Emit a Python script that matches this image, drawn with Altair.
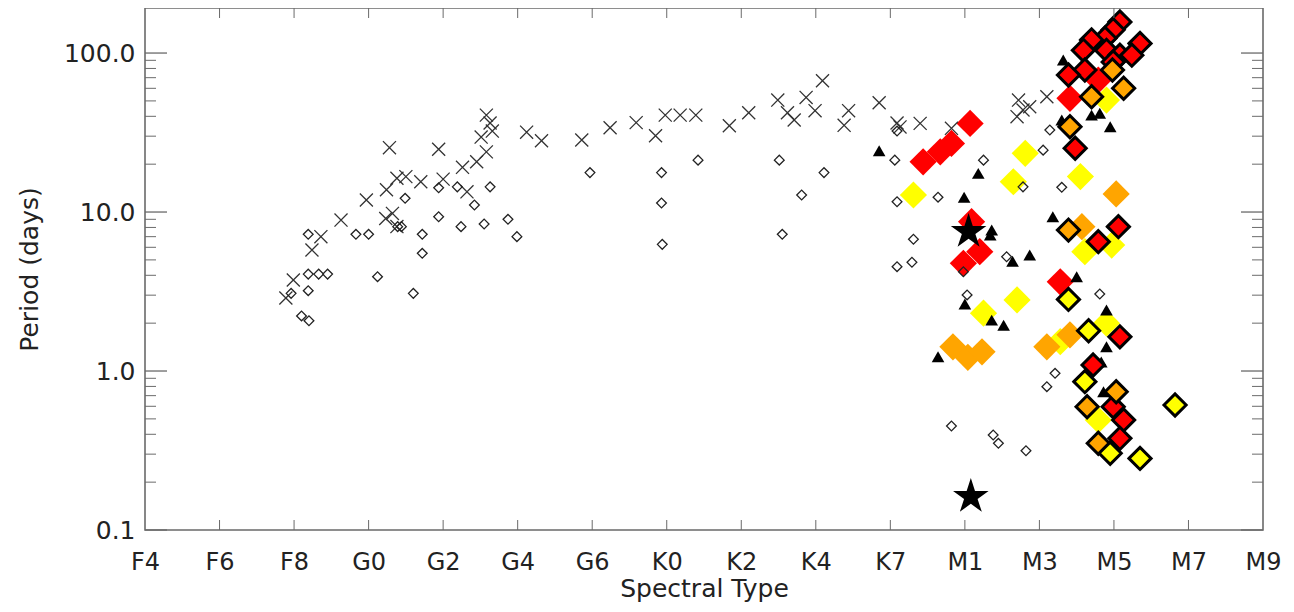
import altair as alt
import pandas as pd

# Spectral-type tick labels (positions 0..15 on the x scale)
spt_labels = ["F4", "F6", "F8", "G0", "G2", "G4", "G6", "K0",
              "K2", "K4", "K7", "M1", "M3", "M5", "M7", "M9"]

# Crosses
cross_spt = [1.89, 1.99, 2.24, 2.36, 2.63, 2.97, 3.23, 3.32, 3.38, 3.24, 3.28, 3.38, 3.50,
             3.70, 3.94, 4.00, 4.26, 4.32, 4.45, 4.58, 4.51, 4.66, 4.63, 4.58, 5.12, 5.32,
             5.86, 6.24, 6.59, 6.85, 6.98, 7.18, 7.39, 7.84, 8.10, 8.49, 8.62, 8.71, 8.87,
             8.99, 9.09, 9.44, 9.38, 9.85, 10.09, 10.13, 10.40, 10.82, 11.70, 11.72, 11.87,
             12.10, 11.78]
cross_per = [2.88, 3.74, 5.77, 7.0, 8.9, 11.9, 9.1, 9.8, 8.1, 13.8, 25.4, 16.3, 16.7,
             15.5, 24.8, 16.1, 19.1, 13.4, 20.7, 23.9, 29.6, 32.3, 36.3, 40.7, 31.8, 28.1,
             28.4, 33.9, 36.5, 30.2, 40.7, 40.7, 40.7, 34.9, 42.1, 50.6, 42.1, 37.9, 52.6,
             43.4, 67.0, 43.4, 35.1, 48.7, 36.3, 34.3, 36.1, 33.6, 39.8, 50.6, 45.9,
             53.1, 43.8]

# Small open diamonds
odia_spt = [1.96, 2.10, 2.20, 2.19, 2.19, 2.33, 2.45, 2.19, 2.83, 3.00, 3.12, 3.39, 3.44,
            3.49, 3.60, 3.72, 3.72, 3.94, 3.94, 4.19, 4.24, 4.42, 4.55, 4.63, 4.87, 4.99,
            5.97, 6.93, 6.93, 6.94, 7.42, 8.51, 8.55, 8.81, 9.11, 10.09, 10.06, 10.09,
            10.64, 10.31, 10.29, 10.09, 10.98, 11.03, 11.25, 11.56, 11.78, 12.05, 12.14,
            12.30, 12.81, 12.21, 12.10, 10.82, 11.38, 11.45, 11.82]
odia_per = [3.08, 2.22, 2.07, 3.20, 4.07, 4.07, 4.07, 7.24, 7.24, 7.24, 3.92, 8.09, 8.09,
            12.2, 3.08, 7.24, 5.50, 14.2, 9.34, 14.4, 8.09, 11.07, 8.41, 14.4, 9.0, 7.0,
            17.7, 17.7, 11.4, 6.26, 21.2, 21.2, 7.24, 12.8, 17.7, 32.3, 21.2, 11.6,
            12.4, 6.74, 4.83, 4.53, 4.21, 3.01, 21.2, 5.23, 14.4, 24.5, 32.8,
            14.3, 3.05, 0.967, 0.797, 0.451, 0.396, 0.351, 0.315]

# Filled triangles
tri_spt = [9.85, 11.18, 10.99, 11.36, 11.34, 11.64, 11.87, 11.00, 11.36, 11.52, 10.64,
           12.18, 12.32, 12.30, 12.70, 12.81, 12.95, 12.50, 12.90, 12.90, 12.86, 12.83]
tri_per = [24.3, 17.5, 12.4, 7.70, 7.17, 4.9, 5.37, 2.64, 2.09, 1.94, 1.23,
           9.34, 90.4, 37.9, 40.7, 41.8, 34.4, 3.92, 2.42, 1.42, 0.741, 1.14]

# Stars
star_spt = [11.05, 11.08]
star_per = [7.52, 0.162]

# Large diamonds without outline
big_spt = [10.44, 10.67, 10.82, 11.07, 11.09, 11.20, 10.98, 12.28, 12.79, 12.41,
           10.31, 11.81, 11.65, 11.70, 11.25, 12.55, 12.61, 12.97, 12.28, 12.90, 12.79, 12.90,
           10.84, 11.04, 11.23, 12.10, 12.41, 13.03, 12.57]
big_per = [20.7, 23.9, 27.0, 36.1, 8.69, 5.63, 4.76, 3.64, 67.6, 51.9,
           12.8, 23.4, 15.5, 2.80, 2.31, 16.7, 5.63, 6.2, 1.53, 2.0, 0.492, 50.6,
           1.42, 1.22, 1.32, 1.42, 1.69, 13.0, 8.09]
big_cls = ["red"] * 10 + ["yellow"] * 12 + ["orange"] * 7

# Large diamonds with black outline
out_spt = [13.08, 12.99, 12.88, 12.70, 12.59, 12.90, 13.08, 13.35, 13.24, 12.99, 12.61,
           12.39, 12.48, 13.06, 12.79, 13.08, 12.72, 12.99, 13.13, 13.08,
           12.98, 13.13, 12.70, 12.41, 12.39, 13.03, 12.64, 12.79,
           12.39, 12.66, 12.61, 12.95, 13.35, 13.82]
out_per = [157, 140, 124, 121, 104, 104, 97, 115, 97, 87.8, 78.2,
           72.7, 25.2, 8.09, 6.51, 1.64, 1.09, 0.596, 0.492, 0.377,
           78.2, 60, 53.1, 34.4, 7.7, 0.741, 0.596, 0.351,
           2.82, 1.79, 0.857, 0.304, 0.282, 0.611]
out_cls = ["red"] * 20 + ["orange"] * 8 + ["yellow"] * 6

y_major = [0.1, 1, 10, 100]
y_minor = [0.2, 0.3, 0.4, 0.5, 0.6, 0.7, 0.8, 0.9, 2, 3, 4, 5, 6, 7, 8, 9,
           20, 30, 40, 50, 60, 70, 80, 90]
x_ticks = list(range(1, 15))

W, H = 1118, 522
FONT = "DejaVu Sans"
TXT = "#222222"
FRAME = "#6a6a6a"

STAR_PATH = ("M0,-1L0.2233,-0.3074L0.9511,-0.309L0.3614,0.1174L0.5878,0.809L0,0.38"
             "L-0.5878,0.809L-0.3614,0.1174L-0.9511,-0.309L-0.2233,-0.3074Z")
XMARK_PATH = "M-1,-1L1,1M1,-1L-1,1"

xscale = alt.Scale(domain=[0, 15], nice=False, zero=False)
yscale = alt.Scale(type="log", domain=[0.1, 192], nice=False)

label_arr = "[" + ",".join("'%s'" % s for s in spt_labels) + "]"
xaxis = alt.Axis(orient="bottom", values=list(range(16)),
                 labelExpr=label_arr + "[datum.value]",
                 ticks=False, domain=False, grid=False,
                 labelPadding=20, labelFontSize=24, labelFont=FONT, labelColor=TXT,
                 title="Spectral Type", titleFontSize=25, titleFont=FONT,
                 titleFontWeight="normal", titleColor=TXT, titleY=46,
                 titleBaseline="top", labelFlush=False)
yaxis = alt.Axis(orient="left", values=y_major, format=".1f", ticks=False,
                 domain=False, grid=False, labelPadding=10, labelFontSize=25,
                 labelFont=FONT, labelColor=TXT, title="Period (days)",
                 titleFontSize=25, titleFont=FONT, titleFontWeight="normal",
                 titleColor=TXT, titleX=-108, titleY=H / 2,
                 titleBaseline="alphabetic", titleAlign="center", labelFlush=False)

CLS_SCALE = alt.Scale(domain=["red", "orange", "yellow"],
                      range=["#ff0000", "#ffa500", "#ffff00"])


def X():
    return alt.X("spt:Q", scale=xscale, axis=xaxis)


def Y():
    return alt.Y("period:Q", scale=yscale, axis=yaxis)


def df(s, p, c=None):
    d = pd.DataFrame({"spt": s, "period": p})
    if c is not None:
        d["cls"] = c
    return d


big = alt.Chart(df(big_spt, big_per, big_cls)).mark_point(
    shape="diamond", filled=True, size=740, opacity=1, strokeWidth=0
).encode(x=X(), y=Y(), fill=alt.Fill("cls:N", scale=CLS_SCALE, legend=None))

tri = alt.Chart(df(tri_spt, tri_per)).mark_point(
    shape="triangle-up", filled=True, size=160, opacity=1, fill="black", strokeWidth=0
).encode(x=X(), y=Y())

outl = alt.Chart(df(out_spt, out_per, out_cls)).mark_point(
    shape="diamond", filled=True, size=490, opacity=1, stroke="black", strokeWidth=3
).encode(x=X(), y=Y(), fill=alt.Fill("cls:N", scale=CLS_SCALE, legend=None))

cross = alt.Chart(df(cross_spt, cross_per)).mark_point(
    shape=XMARK_PATH, filled=False, size=170, opacity=1,
    stroke="#333333", strokeWidth=1.3
).encode(x=X(), y=Y())

odia = alt.Chart(df(odia_spt, odia_per)).mark_point(
    shape="diamond", filled=False, size=95, opacity=1, stroke="#222222", strokeWidth=1.3
).encode(x=X(), y=Y())

ymaj = pd.DataFrame({"period": y_major})
ymin = pd.DataFrame({"period": y_minor})
xt = pd.DataFrame({"spt": x_ticks})

ticks = [
    alt.Chart(ymaj).mark_tick(orient="horizontal", size=22, thickness=1.3,
                              color=FRAME, opacity=1).encode(y=Y(), x=alt.value(11)),
    alt.Chart(ymaj).mark_tick(orient="horizontal", size=22, thickness=1.3,
                              color=FRAME, opacity=1).encode(y=Y(), x=alt.value(W - 11)),
    alt.Chart(ymin).mark_tick(orient="horizontal", size=11, thickness=1,
                              color=FRAME, opacity=1).encode(y=Y(), x=alt.value(5.5)),
    alt.Chart(ymin).mark_tick(orient="horizontal", size=11, thickness=1,
                              color=FRAME, opacity=1).encode(y=Y(), x=alt.value(W - 5.5)),
    alt.Chart(xt).mark_tick(orient="vertical", size=10, thickness=1,
                            color=FRAME, opacity=1).encode(x=X(), y=alt.value(H - 5)),
    alt.Chart(xt).mark_tick(orient="vertical", size=10, thickness=1,
                            color=FRAME, opacity=1).encode(x=X(), y=alt.value(5)),
]

star = alt.Chart(df(star_spt, star_per)).mark_point(
    shape=STAR_PATH, filled=True, size=1400, opacity=1, fill="black", strokeWidth=0
).encode(x=X(), y=Y())

chart = alt.layer(big, tri, outl, cross, odia, *ticks, star).properties(
    width=W, height=H,
    autosize=alt.AutoSizeParams(type="none"),
    padding={"left": 137, "top": 0, "right": 20, "bottom": 74},
    background="white",
).configure_view(stroke=FRAME, strokeWidth=1.6)

chart.save("out.html", embed_options={"renderer": "svg", "actions": False})
